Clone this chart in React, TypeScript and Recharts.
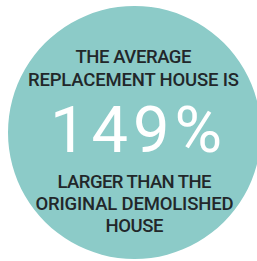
import React from "react";
import { PieChart, Pie, Cell, Label } from "recharts";

const slices = [{ name: "replacement", value: 100 }];
const topLines = ["THE AVERAGE", "REPLACEMENT HOUSE IS"];
const bigValue = "149%";
const bottomLines = ["LARGER THAN THE", "ORIGINAL DEMOLISHED", "HOUSE"];

const topBaselines = [63, 86];
const topWidths = [116, 211];
const bottomBaselines = [188, 210, 232];
const bottomWidths = [154, 198, 58];

const TextBlock = () => {
  const cx = 133.5;
  const font = "Roboto, 'Noto Sans', sans-serif";
  return (
    <g>
      {topLines.map((t, i) => (
        <text key={"t" + i} x={cx} y={topBaselines[i]} textAnchor="middle" fontFamily={font} fontWeight={500} fontSize={18.5} fill="#22272a" textLength={topWidths[i]} lengthAdjust="spacing">
          {t}
        </text>
      ))}
      <text x={cx + 2.5} y={152} textAnchor="middle" fontFamily={font} fontWeight={400} fontSize={65} fill="#ffffff" textLength={172} lengthAdjust="spacing">
        {bigValue}
      </text>
      {bottomLines.map((t, i) => (
        <text key={"b" + i} x={cx + 1} y={bottomBaselines[i]} textAnchor="middle" fontFamily={font} fontWeight={500} fontSize={18.5} fill="#22272a" textLength={bottomWidths[i]} lengthAdjust="spacing">
          {t}
        </text>
      ))}
    </g>
  );
};

export default function App() {
  return (
    <div style={{ position: "absolute", left: 0, top: 0, width: 257, height: 261, background: "#ffffff" }}>
      <PieChart width={257} height={261} margin={{ top: 0, right: 0, bottom: 0, left: 0 }}>
        <Pie data={slices} dataKey="value" cx={134.5} cy={132.5} outerRadius={126.5} innerRadius={0} stroke="none" isAnimationActive={false} startAngle={90} endAngle={-270}>
          {slices.map((s) => (
            <Cell key={s.name} fill="#8ccbc8" />
          ))}
          <Label position="center" content={() => <TextBlock />} />
        </Pie>
      </PieChart>
    </div>
  );
}
